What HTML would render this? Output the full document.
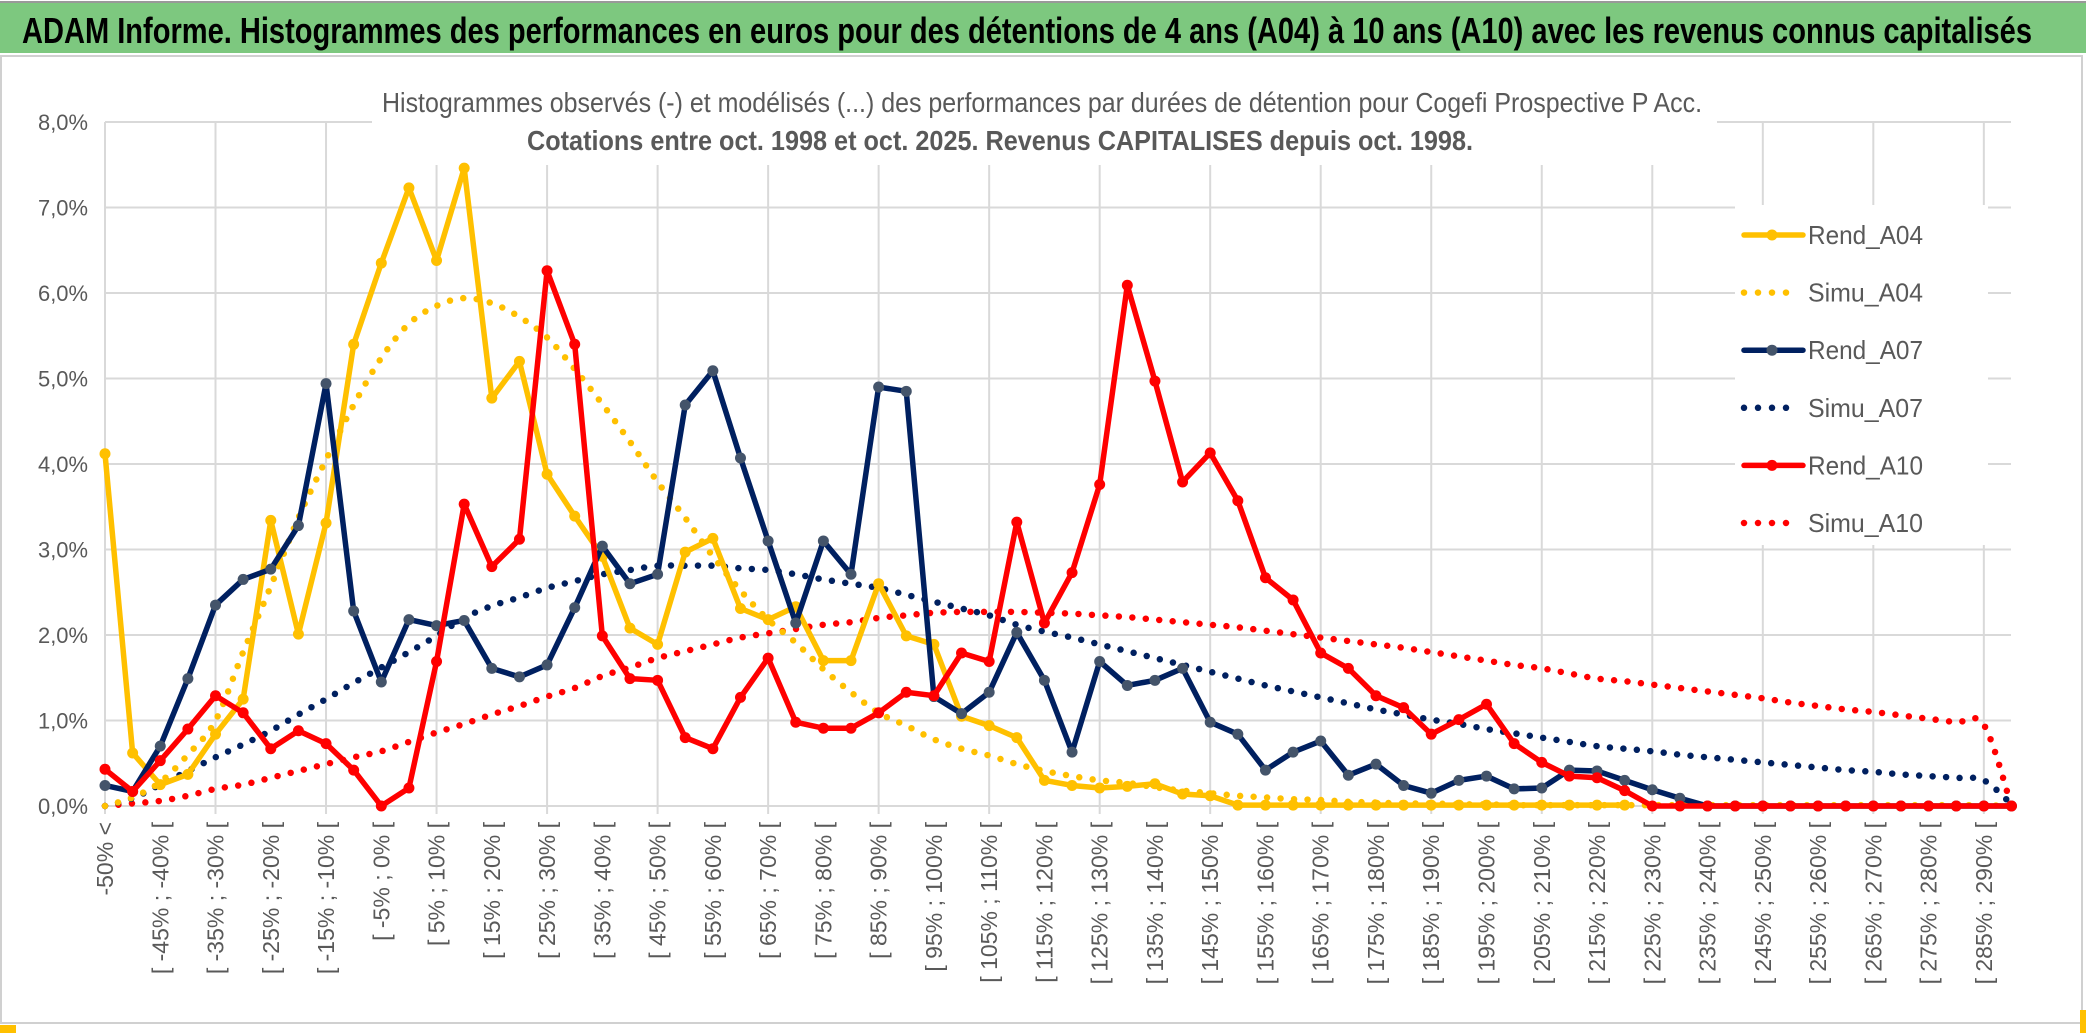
<!DOCTYPE html>
<html><head><meta charset="utf-8"><style>
html,body{margin:0;padding:0;background:#fff;}
svg{display:block;font-family:"Liberation Sans",sans-serif;}
</style></head><body>
<svg id="chart" width="2086" height="1033" viewBox="0 0 2086 1033" xmlns="http://www.w3.org/2000/svg">
  <rect x="0" y="0" width="2086" height="1033" fill="#fff"/>
  <rect x="0" y="3" width="2086" height="50" fill="#7dc87f"/>
  <line x1="0" y1="2" x2="2086" y2="2" stroke="#999" stroke-width="2"/>
  <text x="22" y="43" font-size="36" font-weight="bold" fill="#000" textLength="2010" lengthAdjust="spacingAndGlyphs">ADAM Informe. Histogrammes des performances en euros pour des détentions de 4 ans (A04) à 10 ans (A10) avec les revenus connus capitalisés</text>
  <rect x="1" y="56" width="2081" height="967" fill="none" stroke="#d0d0d0" stroke-width="2"/>
  <rect x="0" y="1025" width="16" height="8" fill="#ffc000"/>
  <rect x="2080" y="1010" width="6" height="23" fill="#ffc000"/>
  <g id="grid"></g>
  <rect x="372" y="70" width="1345" height="95" fill="#fff"/>
  <rect x="1735" y="205" width="253" height="340" fill="#fff"/>
  <g id="series"></g>
  <g id="yaxis"></g>
  <g id="xaxis"></g>
  <text x="1042" y="112" font-size="28" fill="#595959" text-anchor="middle" textLength="1320" lengthAdjust="spacingAndGlyphs">Histogrammes observés (-) et modélisés (...) des performances par durées de détention pour Cogefi Prospective P Acc.</text>
  <text x="1000" y="150" font-size="28" font-weight="bold" fill="#595959" text-anchor="middle" textLength="946" lengthAdjust="spacingAndGlyphs">Cotations entre oct. 1998 et oct. 2025. Revenus CAPITALISES depuis oct. 1998.</text>
  <g id="legend"></g>
</svg>
<script>
const categories = ["-50% <"];
for (let k = 1; k < 70; k++) { const a = -50 + 5 * (k - 1); categories.push("[ " + a + "% ; " + (a + 5) + "% ["); }
const yTicks = [0, 1, 2, 3, 4, 5, 6, 7, 8];
const yTickLabels = ["0,0%", "1,0%", "2,0%", "3,0%", "4,0%", "5,0%", "6,0%", "7,0%", "8,0%"];
const rendA04 = [4.12,0.62,0.25,0.37,0.84,1.25,3.34,2.01,3.31,5.40,6.35,7.23,6.38,7.46,4.77,5.20,3.88,3.39,2.92,2.08,1.89,2.97,3.13,2.31,2.18,2.33,1.70,1.70,2.60,1.99,1.89,1.05,0.94,0.80,0.30,0.24,0.21,0.23,0.26,0.14,0.12,0.01,0.01,0.01,0.01,0.01,0.01,0.01,0.01,0.01,0.01,0.01,0.01,0.01,0.01,0.01];
const simuA04 = [0,0.1,0.28,0.6,1.0,1.8,2.57,3.37,4.05,4.69,5.24,5.64,5.85,5.94,5.88,5.72,5.48,5.11,4.7,4.26,3.79,3.37,2.92,2.52,2.18,1.91,1.60,1.33,1.09,0.94,0.78,0.67,0.59,0.49,0.41,0.35,0.30,0.27,0.22,0.18,0.15,0.12,0.10,0.08,0.07,0.05,0.04,0.03,0.03,0.02,0.02,0.01,0.01,0.01,0.01,0.01,0.01,0.01,0.01,0.01,0.01,0.01,0.01,0.01,0.01,0.01,0.01,0.01,0.01,0];
const rendA07 = [0.24,0.17,0.70,1.49,2.35,2.65,2.77,3.28,4.94,2.28,1.45,2.18,2.11,2.17,1.61,1.51,1.65,2.32,3.04,2.60,2.71,4.69,5.09,4.07,3.10,2.14,3.10,2.71,4.90,4.85,1.28,1.08,1.33,2.03,1.47,0.63,1.69,1.41,1.47,1.61,0.98,0.84,0.42,0.63,0.76,0.36,0.49,0.24,0.15,0.30,0.35,0.20,0.21,0.42,0.41,0.30,0.19,0.09,0,0,0,0,0,0,0,0,0,0,0,0];
const simuA07 = [0,0.09,0.25,0.41,0.57,0.72,0.88,1.07,1.25,1.44,1.62,1.8,1.99,2.20,2.34,2.44,2.55,2.63,2.71,2.76,2.81,2.81,2.81,2.78,2.76,2.71,2.65,2.60,2.55,2.47,2.39,2.31,2.23,2.12,2.04,1.97,1.89,1.81,1.73,1.65,1.57,1.49,1.41,1.34,1.27,1.20,1.13,1.07,1.01,0.96,0.90,0.85,0.80,0.75,0.70,0.67,0.64,0.60,0.57,0.54,0.51,0.48,0.45,0.42,0.40,0.37,0.35,0.33,0.30,0.02];
const rendA10 = [0.43,0.17,0.53,0.90,1.29,1.09,0.67,0.88,0.73,0.42,0.0,0.21,1.69,3.53,2.80,3.12,6.26,5.40,1.99,1.49,1.47,0.80,0.67,1.27,1.73,0.98,0.91,0.91,1.09,1.33,1.29,1.79,1.69,3.32,2.14,2.73,3.76,6.09,4.97,3.79,4.13,3.57,2.67,2.41,1.79,1.61,1.29,1.15,0.84,1.01,1.19,0.73,0.51,0.35,0.33,0.18,0,0,0,0,0,0,0,0,0,0,0,0,0,0];
const simuA10 = [0,0.03,0.06,0.12,0.20,0.25,0.33,0.41,0.49,0.57,0.64,0.75,0.86,0.96,1.07,1.17,1.28,1.38,1.52,1.62,1.73,1.81,1.89,1.97,2.02,2.07,2.12,2.15,2.20,2.23,2.26,2.27,2.27,2.27,2.26,2.25,2.23,2.21,2.18,2.15,2.12,2.09,2.05,2.01,1.97,1.93,1.89,1.85,1.80,1.75,1.70,1.65,1.61,1.55,1.49,1.46,1.42,1.38,1.34,1.30,1.26,1.21,1.17,1.13,1.10,1.06,1.02,0.98,0.95,0];

const NS = "http://www.w3.org/2000/svg";
const X0 = 105, DX = 27.63, Y0 = 806, DY = 85.5, XR = 2011;
function xs(i) { return X0 + i * DX; }
function ys(v) { return Y0 - v * DY; }
function mk(tag, attrs, parent) { const e = document.createElementNS(NS, tag); for (const k in attrs) e.setAttribute(k, attrs[k]); parent.appendChild(e); return e; }

const grid = document.getElementById("grid");
yTicks.forEach(function (t) {
  const l = mk("line", {x1: X0, x2: XR, y1: ys(t), y2: ys(t), stroke: "#d9d9d9", "stroke-width": 2}, grid);
  
  
});
for (let i = 0; i < categories.length; i += 4) {
  const l = mk("line", {x1: xs(i), x2: xs(i), y1: ys(8), y2: ys(0) + 8, stroke: "#d9d9d9", "stroke-width": 2}, grid);
  
  
}

const yaxis = document.getElementById("yaxis");
yTicks.forEach(function (t, k) {
  const tx = mk("text", {x: 88, y: ys(t) + 8, "font-size": 22, fill: "#595959", "text-anchor": "end", textLength: 50, lengthAdjust: "spacingAndGlyphs"}, yaxis);
  tx.textContent = yTickLabels[k];
  
  
});

const xaxis = document.getElementById("xaxis");
categories.forEach(function (c, i) {
  if (i % 2 !== 0) return;
  const x = xs(i) + 8, y = 822;
  const tx = mk("text", {x: x, y: y, "font-size": 23, fill: "#595959", "text-anchor": "end", transform: "rotate(-90 " + x + " " + y + ")"}, xaxis);
  tx.textContent = c;
  
  
});

const series = document.getElementById("series");
function smoothPath(vals) {
  const p = vals.map(function (v, i) { return [xs(i), ys(v)]; });
  let d = "M" + p[0][0] + "," + p[0][1];
  for (let i = 0; i < p.length - 1; i++) {
    const a = p[i - 1] || p[i], b = p[i], c = p[i + 1], e = p[i + 2] || c;
    d += " C" + (b[0] + (c[0] - a[0]) / 6) + "," + (b[1] + (c[1] - a[1]) / 6) + " " + (c[0] - (e[0] - b[0]) / 6) + "," + (c[1] - (e[1] - b[1]) / 6) + " " + c[0] + "," + c[1];
  }
  return d;
}
function drawSimu(vals, color, name) {
  const p = mk("path", {d: smoothPath(vals), fill: "none", stroke: color, "stroke-width": 6.5, "stroke-linecap": "round", "stroke-dasharray": "0 13.5"}, series);
  
  
}
function drawRend(vals, color, mcolor, name) {
  const pts = vals.map(function (v, i) { return xs(i) + "," + ys(v); }).join(" ");
  const pl = mk("polyline", {points: pts, fill: "none", stroke: color, "stroke-width": 5.5, "stroke-linejoin": "round"}, series);
  
  
  vals.forEach(function (v, i) {
    const c = mk("circle", {cx: xs(i), cy: ys(v), r: 5.5, fill: mcolor}, series);
    
    
  });
}
drawSimu(simuA10, "#ff0000", "simu-a10-line");
drawSimu(simuA07, "#002060", "simu-a07-line");
drawSimu(simuA04, "#ffc000", "simu-a04-line");
drawRend(rendA04, "#ffc000", "#ffc000", "rend-a04");
drawRend(rendA07, "#002060", "#44546a", "rend-a07");
drawRend(rendA10, "#ff0000", "#ff0000", "rend-a10");

const legend = document.getElementById("legend");
const legendItems = [
  ["Rend_A04", "#ffc000", "#ffc000", false],
  ["Simu_A04", "#ffc000", "#ffc000", true],
  ["Rend_A07", "#002060", "#44546a", false],
  ["Simu_A07", "#002060", "#002060", true],
  ["Rend_A10", "#ff0000", "#ff0000", false],
  ["Simu_A10", "#ff0000", "#ff0000", true]
];
legendItems.forEach(function (it, k) {
  const y = 235 + k * 57.6;
  const g = mk("g", {}, legend);
  
  
  if (it[3]) {
    mk("line", {x1: 1744, x2: 1800, y1: y, y2: y, stroke: it[1], "stroke-width": 6.5, "stroke-linecap": "round", "stroke-dasharray": "0 14"}, g);
  } else {
    mk("line", {x1: 1744, x2: 1803, y1: y, y2: y, stroke: it[1], "stroke-width": 5.5, "stroke-linecap": "round"}, g);
    mk("circle", {cx: 1772, cy: y, r: 5.5, fill: it[2]}, g);
  }
  const tx = mk("text", {x: 1808, y: y + 9, "font-size": 26, fill: "#595959", textLength: 115, lengthAdjust: "spacingAndGlyphs"}, g);
  tx.textContent = it[0];
});
</script>
</body></html>
